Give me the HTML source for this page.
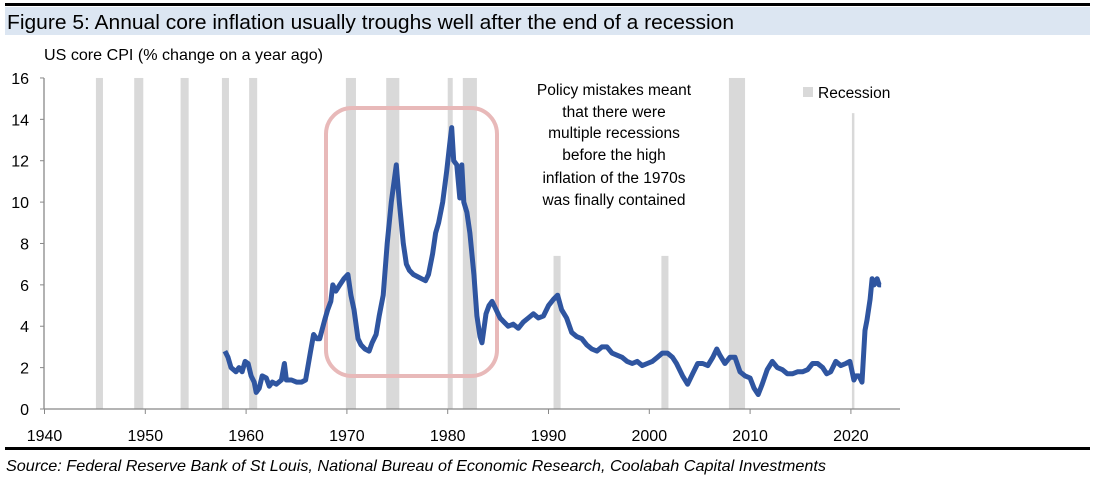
<!DOCTYPE html>
<html><head><meta charset="utf-8">
<style>
body{margin:0;background:#fff;font-family:"Liberation Sans",sans-serif}
svg{display:block}
</style></head><body>
<svg id="chart" width="1102" height="489" viewBox="0 0 1102 489" xmlns="http://www.w3.org/2000/svg" font-family="Liberation Sans, sans-serif">
<rect x="5" y="3" width="1085" height="3" fill="#000"/>
<rect x="5" y="7" width="1085" height="28" fill="#dce6f2"/>
<text x="7" y="29" font-size="20.5" textLength="727" lengthAdjust="spacingAndGlyphs" fill="#000">Figure 5: Annual core inflation usually troughs well after the end of a recession</text>
<text x="44" y="60" font-size="16" textLength="279" lengthAdjust="spacingAndGlyphs" fill="#000">US core CPI (% change on a year ago)</text>
<g id="rec"></g>
<g id="axes"></g>
<rect x="326" y="108" width="171" height="268" rx="26" fill="none" stroke="#e8b9b9" stroke-width="4"/>
<path id="line" fill="none" stroke="#2f55a0" stroke-width="5" stroke-linejoin="round"/>
<g font-size="15.5" text-anchor="middle" fill="#000">
<text x="614" y="95">Policy mistakes meant</text>
<text x="614" y="117">that there were</text>
<text x="614" y="138">multiple recessions</text>
<text x="614" y="160">before the high</text>
<text x="614" y="183">inflation of the 1970s</text>
<text x="614" y="205">was finally contained</text>
</g>
<rect x="803" y="87" width="10" height="10" fill="#d9d9d9"/>
<text x="818" y="98" font-size="15.5">Recession</text>
<rect x="5" y="447" width="1085" height="3" fill="#000"/>
<text x="6" y="471" font-size="16" font-style="italic" textLength="820" lengthAdjust="spacingAndGlyphs">Source: Federal Reserve Bank of St Louis, National Bureau of Economic Research, Coolabah Capital Investments</text>
</svg>
<script>
const recStart=[1945.1,1948.9,1953.5,1957.6,1960.3,1969.9,1973.9,1980.0,1981.5,1990.5,2001.2,2007.9,2020.1];
const recEnd=[1945.8,1949.8,1954.3,1958.3,1961.1,1970.9,1975.2,1980.5,1982.9,1991.2,2001.9,2009.5,2020.3];
const recTop=[16,16,16,16,16,16,16,16,16,7.4,7.4,16,14.3];
const years=[1957.9,1958.2,1958.5,1959,1959.3,1959.6,1959.9,1960.2,1960.5,1960.8,1961,1961.3,1961.6,1962,1962.3,1962.6,1963,1963.5,1963.8,1964,1964.5,1965,1965.5,1965.9,1966.4,1966.7,1967,1967.3,1967.8,1968.1,1968.4,1968.6,1968.9,1969.3,1969.7,1970.1,1970.4,1970.7,1971.1,1971.4,1971.8,1972.2,1972.5,1972.9,1973.2,1973.6,1974,1974.4,1974.9,1975.2,1975.6,1975.9,1976.2,1976.6,1977,1977.4,1977.8,1978.1,1978.5,1978.8,1979.1,1979.5,1979.9,1980.2,1980.4,1980.6,1980.9,1981.2,1981.4,1981.6,1981.9,1982.2,1982.6,1982.9,1983.2,1983.4,1983.8,1984.1,1984.4,1984.8,1985.2,1985.6,1986,1986.5,1987,1987.5,1988,1988.5,1989,1989.5,1990,1990.5,1990.9,1991.3,1991.8,1992.3,1992.8,1993.3,1993.8,1994.3,1994.8,1995.3,1995.8,1996.3,1996.8,1997.3,1997.8,1998.3,1998.8,1999.3,1999.8,2000.3,2000.8,2001.3,2001.8,2002.3,2002.7,2003.3,2003.8,2004.3,2004.8,2005.3,2005.8,2006.3,2006.7,2007,2007.5,2008,2008.5,2009,2009.5,2010,2010.4,2010.8,2011.2,2011.7,2012.2,2012.7,2013.2,2013.7,2014.2,2014.7,2015.2,2015.7,2016.2,2016.7,2017.2,2017.6,2018,2018.5,2019,2019.5,2019.9,2020.3,2020.5,2020.8,2021.1,2021.4,2021.6,2021.9,2022.1,2022.3,2022.6,2022.8,2023];
const values=[2.8,2.5,2.0,1.8,2.0,1.8,2.3,2.2,1.6,1.3,0.8,1.0,1.6,1.5,1.1,1.3,1.2,1.4,2.2,1.4,1.4,1.3,1.3,1.4,2.8,3.6,3.4,3.4,4.3,4.8,5.2,6.0,5.7,6.0,6.3,6.5,5.5,4.8,3.4,3.1,2.9,2.8,3.2,3.6,4.5,5.5,8.0,10.0,11.8,10.0,8.0,7.0,6.7,6.5,6.4,6.3,6.2,6.5,7.5,8.5,9.0,10.0,11.5,12.8,13.6,12.0,11.8,10.2,11.8,10.0,9.5,8.5,6.5,4.5,3.5,3.2,4.6,5.0,5.2,4.8,4.4,4.2,4.0,4.1,3.9,4.2,4.4,4.6,4.4,4.5,5.0,5.3,5.5,4.8,4.4,3.7,3.5,3.4,3.1,2.9,2.8,3.0,3.0,2.7,2.6,2.5,2.3,2.2,2.3,2.1,2.2,2.3,2.5,2.7,2.7,2.5,2.2,1.6,1.2,1.7,2.2,2.2,2.1,2.5,2.9,2.6,2.2,2.5,2.5,1.8,1.6,1.5,1.0,0.7,1.2,1.9,2.3,2.0,1.9,1.7,1.7,1.8,1.8,1.9,2.2,2.2,2.0,1.7,1.8,2.3,2.1,2.2,2.3,1.4,1.6,1.6,1.3,3.8,4.3,5.3,6.3,6.0,6.3,6.0,6.0];
const yTicks=[0,2,4,6,8,10,12,14,16];
const xTicks=[1940,1950,1960,1970,1980,1990,2000,2010,2020];

const NS='http://www.w3.org/2000/svg';
const X=y=>44.5+(y-1940)*10.08;
const Y=v=>409-v*20.69;
function mk(tag,attrs,parent){const e=document.createElementNS(NS,tag);for(const k in attrs)e.setAttribute(k,attrs[k]);parent.appendChild(e);return e;}
const rec=document.getElementById('rec');
recStart.forEach((s,i)=>{
  const r=mk('rect',{x:X(s),y:Y(recTop[i]),width:Math.max(2.5,X(recEnd[i])-X(s)),height:Y(0)-Y(recTop[i]),fill:'#d9d9d9'},rec);
  
  
});
const ax=document.getElementById('axes');
mk('line',{x1:44,y1:Y(0),x2:900,y2:Y(0),stroke:'#888','stroke-width':1.3},ax);
mk('line',{x1:44,y1:Y(0),x2:44,y2:Y(16),stroke:'#888','stroke-width':1.3},ax);
yTicks.forEach(t=>{
  mk('line',{x1:40,y1:Y(t),x2:44,y2:Y(t),stroke:'#888'},ax);
  const tx=mk('text',{x:29,y:Y(t)+6,'font-size':16,'text-anchor':'end'},ax);tx.textContent=t;
  
  
});
xTicks.forEach(t=>{
  mk('line',{x1:X(t),y1:Y(0),x2:X(t),y2:Y(0)+5,stroke:'#888'},ax);
  const tx=mk('text',{x:X(t),y:441,'font-size':16,'text-anchor':'middle'},ax);tx.textContent=t;
  
  
});
document.getElementById('line').setAttribute('d',years.map((y,i)=>(i?'L':'M')+X(y).toFixed(1)+' '+Y(values[i]).toFixed(1)).join(' '));
</script>
</body></html>
